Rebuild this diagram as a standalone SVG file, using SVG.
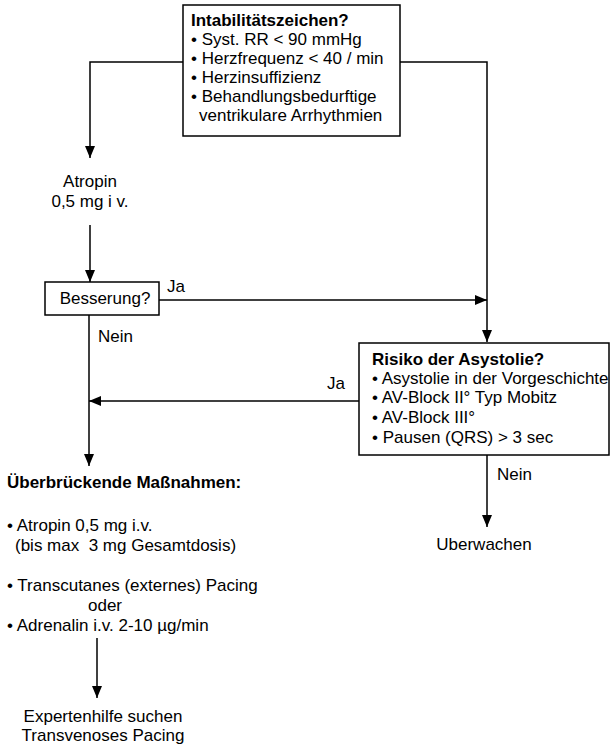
<svg xmlns="http://www.w3.org/2000/svg" width="612" height="744" viewBox="0 0 612 744">
<defs>
<marker id="arr" viewBox="0 0 12 10" refX="12" refY="5" markerWidth="12" markerHeight="10" markerUnits="userSpaceOnUse" orient="auto">
<path d="M0,0 L12,5 L0,10 Z" fill="#000"/>
</marker>
</defs>
<style>
text{font-family:"Liberation Sans",Arial,sans-serif;font-size:17px;fill:#000}
.b{font-weight:bold}
.c{text-anchor:middle}
.box{fill:#fff;stroke:#000;stroke-width:1.5}
.ln{fill:none;stroke:#000;stroke-width:1.5}
.ar{marker-end:url(#arr)}
</style>
<g id="connectors">
<polyline class="ln ar" points="183,62 90,62 90,158"/>
<polyline class="ln ar" points="400,62 487,62 487,342"/>
<line class="ln ar" x1="90" y1="225" x2="90" y2="282"/>
<line class="ln ar" x1="159" y1="300" x2="487" y2="300"/>
<line class="ln ar" x1="89" y1="315" x2="89" y2="466"/>
<line class="ln ar" x1="359" y1="401" x2="89" y2="401"/>
<line class="ln ar" x1="487" y1="455" x2="487" y2="527"/>
<line class="ln ar" x1="97" y1="638" x2="97" y2="698"/>
<text x="167" y="292">Ja</text>
<text x="98" y="342">Nein</text>
<text x="327" y="389">Ja</text>
<text x="497" y="480">Nein</text>
</g>
<g id="instability">
<rect class="box" x="183" y="5" width="217" height="131"/>
<text class="b" x="191" y="26">Intabilitätszeichen?</text>
<text x="191" y="45">• Syst. RR &lt; 90 mmHg</text>
<text x="191" y="64">• Herzfrequenz &lt; 40 / min</text>
<text x="191" y="83">• Herzinsuffizienz</text>
<text x="191" y="102">• Behandlungsbedurftige</text>
<text x="199" y="121">ventrikulare Arrhythmien</text>
</g>
<g id="atropin">
<text class="c" x="90" y="187">Atropin</text>
<text class="c" x="90" y="207">0,5 mg i v.</text>
</g>
<g id="besserung">
<rect class="box" x="45" y="282" width="114" height="33"/>
<text class="c" x="105" y="304">Besserung?</text>
</g>
<g id="risiko">
<rect class="box" x="359" y="343" width="250" height="112"/>
<text class="b" x="372" y="365">Risiko der Asystolie?</text>
<text x="372" y="384">• Asystolie in der Vorgeschichte</text>
<text x="372" y="403">• AV-Block II° Typ Mobitz</text>
<text x="372" y="423">• AV-Block III°</text>
<text x="372" y="443">• Pausen (QRS) &gt; 3 sec</text>
</g>
<g id="ueberwachen">
<text class="c" x="484" y="550">Uberwachen</text>
</g>
<g id="massnahmen">
<text class="b" x="7" y="488">Überbrückende Maßnahmen:</text>
<text x="7" y="531">• Atropin 0,5 mg i.v.</text>
<text x="15" y="551" xml:space="preserve">(bis max  3 mg Gesamtdosis)</text>
<text x="7" y="591">• Transcutanes (externes) Pacing</text>
<text class="c" x="105" y="611">oder</text>
<text x="7" y="631">• Adrenalin i.v. 2-10 µg/min</text>
</g>
<g id="experten">
<text class="c" x="103" y="722">Expertenhilfe suchen</text>
<text class="c" x="103" y="741">Transvenoses Pacing</text>
</g>
</svg>
